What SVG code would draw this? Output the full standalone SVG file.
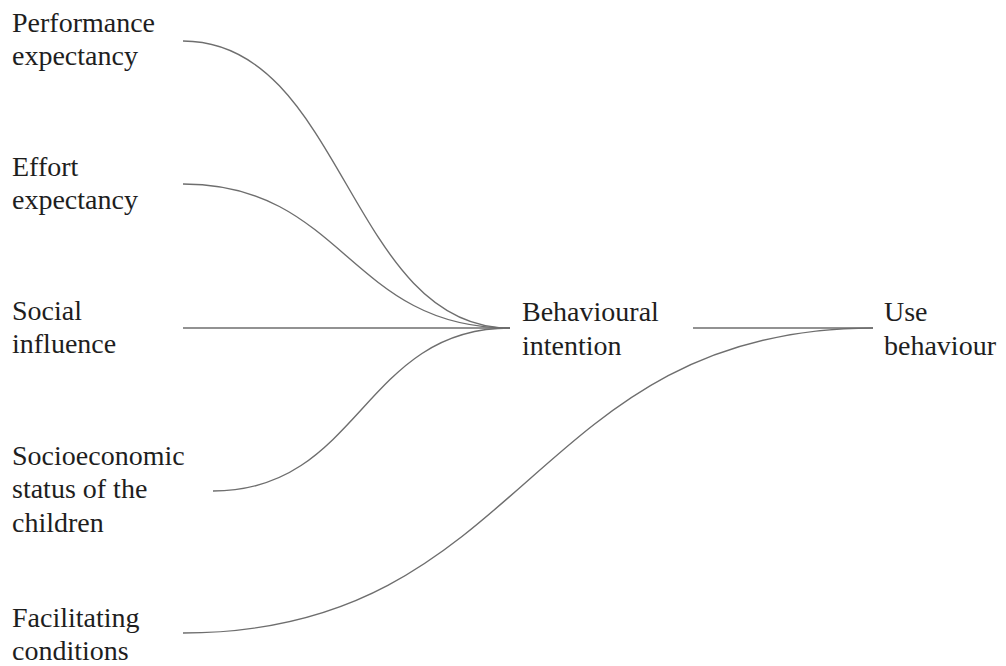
<svg xmlns="http://www.w3.org/2000/svg" width="1006" height="666" viewBox="0 0 1006 666">
<style>
text{font-family:'Liberation Serif','Times New Roman',Times,'DejaVu Serif',serif;font-size:28px;fill:#1e1e1e}
.c{fill:none;stroke:#6e6e6e;stroke-width:1.4}
</style>
<rect width="1006" height="666" fill="#fff"/>
<g id="connectors">
<path class="c" d="M183,41 C344,41 349,328 510,328"/>
<path class="c" d="M183,184 C344,184 349,328 510,328"/>
<path class="c" d="M183,328 L510,328"/>
<path class="c" d="M213,491 C361,491 362,328 510,328"/>
<path class="c" d="M183,633 C528,633 528,328 873,328"/>
<path class="c" d="M693,328 L873,328"/>
</g>
<g font-family="Liberation Serif, serif">
<g id="performance"><text x="12" y="32">Performance</text><text x="12" y="65">expectancy</text></g>
<g id="effort"><text x="12" y="176">Effort</text><text x="12" y="209">expectancy</text></g>
<g id="social"><text x="12" y="320">Social</text><text x="12" y="353">influence</text></g>
<g id="socioeconomic"><text x="12" y="465">Socioeconomic</text><text x="12" y="498">status of the</text><text x="12" y="532">children</text></g>
<g id="facilitating"><text x="12" y="627">Facilitating</text><text x="12" y="660">conditions</text></g>
<g id="behavioural"><text x="522" y="321">Behavioural</text><text x="522" y="355">intention</text></g>
<g id="use"><text x="884" y="321">Use</text><text x="884" y="355">behaviour</text></g>
</g>
</svg>
